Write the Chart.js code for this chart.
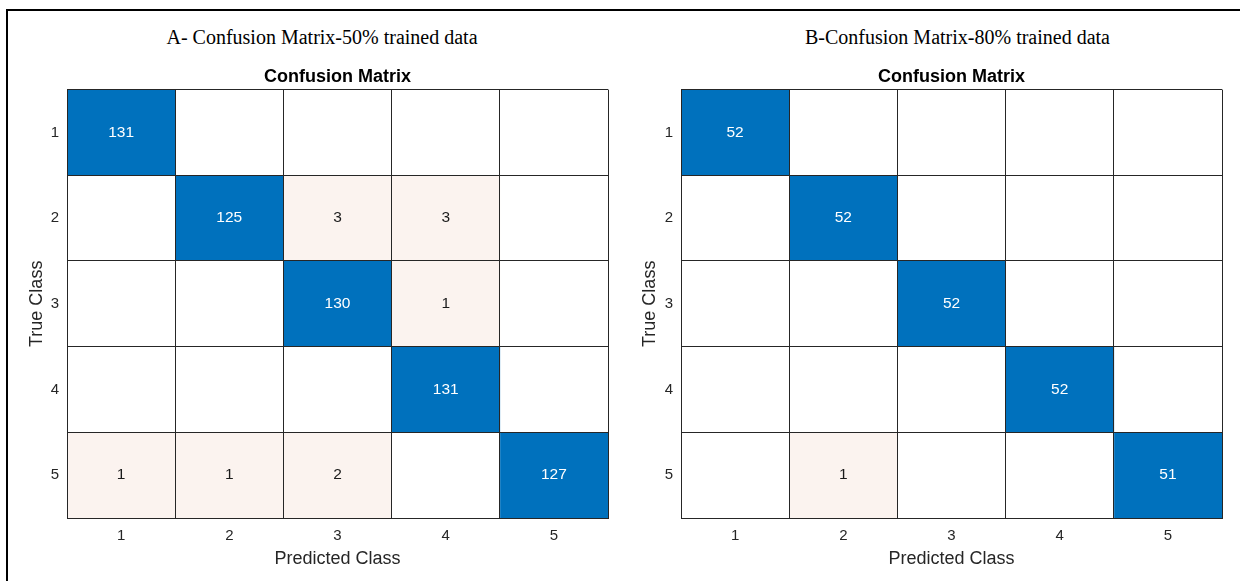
<!DOCTYPE html>
<html>
<head>
<meta charset="utf-8">
<script src="https://cdn.jsdelivr.net/npm/chart.js@4.4.1/dist/chart.umd.min.js"></script>
<style>
  html, body { margin: 0; padding: 0; background: #fff; }
  #fig { position: relative; width: 1240px; height: 581px; overflow: hidden; background: #fff; }
  #frame { position: absolute; left: 6px; top: 9px; right: -10px; bottom: -10px;
           border-top: 2px solid #000; border-left: 2px solid #000; }
  .cap { position: absolute; top: 25px; width: 420px; text-align: center; white-space: nowrap;
         font: 20px/24px "Liberation Serif", "Times New Roman", serif; color: #000; }
  canvas { position: absolute; top: 0; }
</style>
</head>
<body>
<div id="fig">
  <div id="frame"></div>
  <div class="cap" style="left:112px">A- Confusion Matrix-50% trained data</div>
  <div class="cap" style="left:747.5px">B-Confusion Matrix-80% trained data</div>
  <canvas id="cmA" width="620" height="581" style="left:0px"></canvas>
  <canvas id="cmB" width="620" height="581" style="left:620px"></canvas>
</div>
<script>
// Class labels shared by both axes
const classes = ['1', '2', '3', '4', '5'];

// Rows = true class, columns = predicted class
const matrixA = [
  [131,   0,   0,   0,   0],
  [  0, 125,   3,   3,   0],
  [  0,   0, 130,   1,   0],
  [  0,   0,   0, 131,   0],
  [  1,   1,   2,   0, 127]
];
const matrixB = [
  [52,  0,  0,  0,  0],
  [ 0, 52,  0,  0,  0],
  [ 0,  0, 52,  0,  0],
  [ 0,  0,  0, 52,  0],
  [ 0,  1,  0,  0, 51]
];

const SANS = '"Liberation Sans", Arial, Helvetica, sans-serif';
const AXIS_COLOR = '#262626';
const LINE_COLOR = '#262626';
const DIAG_COLOR = '#0071bd';
const OFF_COLOR = '#fbf3ef';

Chart.defaults.font.family = SANS;

function cellColor(value, onDiagonal) {
  if (!value) return '#ffffff';
  return onDiagonal ? DIAG_COLOR : OFF_COLOR;
}

// Writes the count in the centre of every non-empty cell
function cellValuePlugin(matrix) {
  return {
    id: 'cellValues',
    afterDatasetsDraw(chart) {
      const { ctx, scales: { x, y } } = chart;
      ctx.save();
      ctx.font = '15.5px ' + SANS;
      ctx.textAlign = 'center';
      ctx.textBaseline = 'middle';
      matrix.forEach((row, r) => row.forEach((v, c) => {
        if (!v) return;
        ctx.fillStyle = r === c ? '#ffffff' : '#1a1a1a';
        ctx.fillText(String(v), x.getPixelForValue(Number(classes[c])), y.getPixelForValue(r));
      }));
      ctx.restore();
    }
  };
}

function buildMatrixChart(canvasId, matrix, geom) {
  // one floating-bar dataset per predicted-class column
  const datasets = classes.map((col, c) => ({
    label: col,
    data: matrix.map(() => [Number(col) - 0.5, Number(col) + 0.5]),
    backgroundColor: (ctx) => cellColor(matrix[ctx.dataIndex][c], ctx.dataIndex === c),
    borderWidth: 0,
    grouped: false,
    barPercentage: 1,
    categoryPercentage: 1
  }));

  return new Chart(document.getElementById(canvasId), {
    type: 'bar',
    data: { labels: classes, datasets },
    options: {
      indexAxis: 'y',
      responsive: false,
      animation: false,
      devicePixelRatio: 1,
      layout: { padding: { left: 0, top: 0, bottom: 0, right: geom.padRight } },
      plugins: {
        legend: { display: false },
        tooltip: { enabled: false },
        title: {
          display: true,
          text: 'Confusion Matrix',
          fullSize: false,
          color: '#000000',
          font: { size: 18, weight: 'bold', family: SANS },
          padding: { top: 66, bottom: 2 }
        }
      },
      scales: {
        x: {
          type: 'linear',
          min: 0.5,
          max: 5.5,
          afterBuildTicks: (s) => { s.ticks = classes.map(v => ({ value: Number(v) })); },
          afterFit: (s) => { s.height = geom.xAxisHeight; },
          ticks: { padding: 9, color: AXIS_COLOR, font: { size: 15 }, callback: (v) => String(v) },
          grid: { offset: true, color: LINE_COLOR, lineWidth: 1, drawTicks: false, z: 1 },
          border: { display: true, color: LINE_COLOR, width: 1, z: 1 },
          title: { display: true, text: 'Predicted Class', color: AXIS_COLOR,
                   font: { size: 18 }, padding: { top: 0, bottom: 11 } }
        },
        y: {
          type: 'category',
          labels: classes,
          offset: true,
          afterFit: (s) => { s.width = geom.yAxisWidth; },
          ticks: { padding: 8, color: AXIS_COLOR, font: { size: 15 } },
          grid: { offset: true, color: LINE_COLOR, lineWidth: 1, drawTicks: false, z: 1 },
          border: { display: true, color: LINE_COLOR, width: 1, z: 1 },
          title: { display: true, text: 'True Class', color: AXIS_COLOR,
                   font: { size: 18 }, padding: { top: geom.yTitlePad, bottom: 0 } }
        }
      }
    },
    plugins: [cellValuePlugin(matrix)]
  });
}

buildMatrixChart('cmA', matrixA, { padRight: 12, xAxisHeight: 63, yAxisWidth: 67, yTitlePad: 26 });
buildMatrixChart('cmB', matrixB, { padRight: 18, xAxisHeight: 63, yAxisWidth: 61, yTitlePad: 19 });
</script>
</body>
</html>
